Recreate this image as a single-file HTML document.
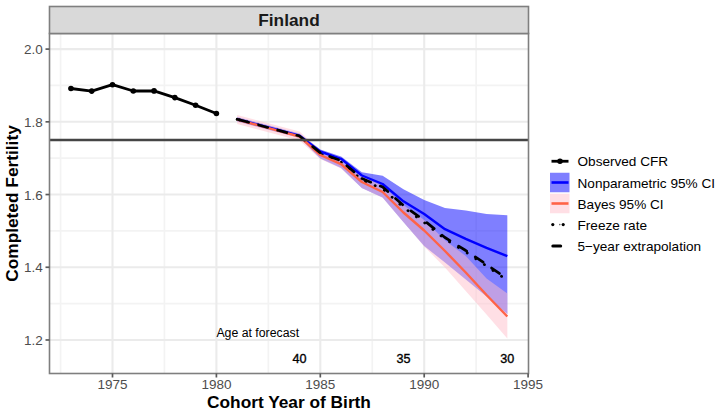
<!DOCTYPE html>
<html><head><meta charset="utf-8"><title>Finland</title>
<style>html,body{margin:0;padding:0;background:#fff;width:720px;height:415px;overflow:hidden}svg{display:block}</style>
</head><body>
<svg width="720" height="415" viewBox="0 0 720 415">
<rect x="0" y="0" width="720" height="415" fill="#fff"/>
<g stroke="#F3F3F3" stroke-width="1.7">
<line x1="60.55" y1="33.5" x2="60.55" y2="373.5"/>
<line x1="164.45" y1="33.5" x2="164.45" y2="373.5"/>
<line x1="268.35" y1="33.5" x2="268.35" y2="373.5"/>
<line x1="372.25" y1="33.5" x2="372.25" y2="373.5"/>
<line x1="476.15" y1="33.5" x2="476.15" y2="373.5"/>
<line x1="49.5" y1="303.62" x2="528.5" y2="303.62"/>
<line x1="49.5" y1="230.90" x2="528.5" y2="230.90"/>
<line x1="49.5" y1="158.18" x2="528.5" y2="158.18"/>
<line x1="49.5" y1="85.46" x2="528.5" y2="85.46"/>
</g><g stroke="#EBEBEB" stroke-width="2.1">
<line x1="112.50" y1="33.5" x2="112.50" y2="373.5"/>
<line x1="216.40" y1="33.5" x2="216.40" y2="373.5"/>
<line x1="320.30" y1="33.5" x2="320.30" y2="373.5"/>
<line x1="424.20" y1="33.5" x2="424.20" y2="373.5"/>
<line x1="49.5" y1="339.98" x2="528.5" y2="339.98"/>
<line x1="49.5" y1="267.26" x2="528.5" y2="267.26"/>
<line x1="49.5" y1="194.54" x2="528.5" y2="194.54"/>
<line x1="49.5" y1="121.82" x2="528.5" y2="121.82"/>
<line x1="49.5" y1="49.10" x2="528.5" y2="49.10"/>
</g>
<polygon points="237.18,117.00 257.96,122.50 278.74,128.00 299.52,133.50 320.30,149.50 341.08,156.50 361.86,172.30 382.64,175.80 403.42,189.20 424.20,200.10 444.98,208.10 465.76,210.60 486.54,214.00 507.32,215.30 507.32,314.00 486.54,296.50 465.76,279.50 444.98,262.60 424.20,246.00 403.42,222.00 382.64,197.50 361.86,188.00 341.08,168.00 320.30,158.50 299.52,138.00 278.74,132.50 257.96,127.00 237.18,121.50" fill="#0000FF" fill-opacity="0.5"/>
<polygon points="237.18,115.00 257.96,120.50 278.74,126.00 299.52,131.50 320.30,150.00 341.08,157.50 361.86,176.00 382.64,186.00 403.42,205.00 424.20,220.00 444.98,240.20 465.76,256.00 486.54,278.60 507.32,293.50 507.32,338.50 486.54,314.50 465.76,291.00 444.98,267.50 424.20,246.50 403.42,222.00 382.64,197.70 361.86,188.00 341.08,168.50 320.30,159.00 299.52,140.50 278.74,135.00 257.96,129.50 237.18,124.00" fill="#FFC0CB" fill-opacity="0.5"/>
<polyline points="237.18,119.30 257.96,124.80 278.74,130.40 299.52,136.20 320.30,153.50 341.08,162.00 361.86,180.00 382.64,188.80 403.42,207.30 424.20,222.50 444.98,239.00 465.76,252.00 486.54,266.00 507.32,280.30" fill="none" stroke="#000" stroke-width="2.8" stroke-dasharray="0.1 10.3" stroke-linecap="round" stroke-linejoin="round"/>
<polyline points="237.18,119.20 257.96,124.70 278.74,130.20 299.52,135.60 320.30,151.50 341.08,158.80 361.86,175.50 382.64,184.00 403.42,201.30 424.20,214.00 444.98,229.20 465.76,238.80 486.54,247.80 507.32,256.20" fill="none" stroke="#0000FF" stroke-width="2.4" stroke-linejoin="round"/>
<polyline points="237.18,119.50 257.96,125.20 278.74,130.80 299.52,136.50 320.30,155.00 341.08,164.20 361.86,182.00 382.64,192.00 403.42,212.50 424.20,230.50 444.98,251.00 465.76,272.50 486.54,295.00 507.32,316.50" fill="none" stroke="#FF6347" stroke-width="2.4" stroke-linejoin="round"/>
<polyline points="237.18,119.30 257.96,124.80 278.74,130.40 299.52,136.00 320.30,152.80 341.08,160.80 361.86,178.50 382.64,187.00 403.42,205.40 424.20,220.50 444.98,237.50 465.76,250.50 486.54,264.50 507.32,279.00" fill="none" stroke="#000" stroke-width="2.7" stroke-dasharray="9.5 10.3" stroke-dashoffset="-2.3" stroke-linecap="round" stroke-linejoin="round"/>
<line x1="237.18" y1="119.30" x2="239.40" y2="119.89" stroke="#000" stroke-width="2.7" stroke-linecap="round"/>
<polyline points="70.94,88.50 91.72,91.10 112.50,84.70 133.28,91.00 154.06,90.90 174.84,97.60 195.62,105.20 216.40,113.50" fill="none" stroke="#000" stroke-width="2.8" stroke-linejoin="round"/>
<circle cx="70.94" cy="88.50" r="2.8" fill="#000"/>
<circle cx="91.72" cy="91.10" r="2.8" fill="#000"/>
<circle cx="112.50" cy="84.70" r="2.8" fill="#000"/>
<circle cx="133.28" cy="91.00" r="2.8" fill="#000"/>
<circle cx="154.06" cy="90.90" r="2.8" fill="#000"/>
<circle cx="174.84" cy="97.60" r="2.8" fill="#000"/>
<circle cx="195.62" cy="105.20" r="2.8" fill="#000"/>
<circle cx="216.40" cy="113.50" r="2.8" fill="#000"/>
<line x1="49.5" y1="140" x2="528.5" y2="140" stroke="#454545" stroke-width="2.3"/>
<g font-family="Liberation Sans, sans-serif" fill="#000">
<text x="216.40" y="337" font-size="12.3">Age at forecast</text>
<text x="299.52" y="363" font-size="12.6" text-anchor="middle" stroke="#000" stroke-width="0.35">40</text>
<text x="403.42" y="363" font-size="12.6" text-anchor="middle" stroke="#000" stroke-width="0.35">35</text>
<text x="507.32" y="363" font-size="12.6" text-anchor="middle" stroke="#000" stroke-width="0.35">30</text>
</g>
<rect x="49.5" y="33.5" width="479.0" height="340.0" fill="none" stroke="#7F7F7F" stroke-width="1.6"/>
<rect x="49.5" y="6.5" width="479.0" height="27.0" fill="#D9D9D9" stroke="#7F7F7F" stroke-width="1.6"/>
<text x="289.00" y="26.4" font-family="Liberation Sans, sans-serif" font-weight="bold" font-size="17.3" text-anchor="middle" fill="#1A1A1A">Finland</text>
<g stroke="#5A5A5A" stroke-width="1.7">
<line x1="45.5" y1="339.98" x2="49.5" y2="339.98"/>
<line x1="45.5" y1="267.26" x2="49.5" y2="267.26"/>
<line x1="45.5" y1="194.54" x2="49.5" y2="194.54"/>
<line x1="45.5" y1="121.82" x2="49.5" y2="121.82"/>
<line x1="45.5" y1="49.10" x2="49.5" y2="49.10"/>
<line x1="112.50" y1="373.5" x2="112.50" y2="377.5"/>
<line x1="216.40" y1="373.5" x2="216.40" y2="377.5"/>
<line x1="320.30" y1="373.5" x2="320.30" y2="377.5"/>
<line x1="424.20" y1="373.5" x2="424.20" y2="377.5"/>
<line x1="528.10" y1="373.5" x2="528.10" y2="377.5"/>
</g>
<g font-family="Liberation Sans, sans-serif" fill="#4D4D4D" font-size="13.5">
<text x="42.8" y="344.98" text-anchor="end">1.2</text>
<text x="42.8" y="272.26" text-anchor="end">1.4</text>
<text x="42.8" y="199.54" text-anchor="end">1.6</text>
<text x="42.8" y="126.82" text-anchor="end">1.8</text>
<text x="42.8" y="54.10" text-anchor="end">2.0</text>
<text x="112.50" y="389.2" text-anchor="middle">1975</text>
<text x="216.40" y="389.2" text-anchor="middle">1980</text>
<text x="320.30" y="389.2" text-anchor="middle">1985</text>
<text x="424.20" y="389.2" text-anchor="middle">1990</text>
<text x="528.10" y="389.2" text-anchor="middle">1995</text>
</g>
<text x="289.00" y="407.5" font-family="Liberation Sans, sans-serif" font-weight="bold" font-size="17.3" text-anchor="middle" fill="#000">Cohort Year of Birth</text>
<text transform="translate(18,203.5) rotate(-90)" x="0" y="0" font-family="Liberation Sans, sans-serif" font-weight="bold" font-size="17.3" text-anchor="middle" fill="#000">Completed Fertility</text>
<line x1="551.5" y1="161.25" x2="568.5" y2="161.25" stroke="#000" stroke-width="2.8"/><circle cx="560" cy="161.25" r="2.8" fill="#000"/><rect x="550.0" y="172.75" width="19.5" height="19.5" fill="#0000FF" fill-opacity="0.5"/><line x1="551.5" y1="182.5" x2="568.5" y2="182.5" stroke="#0000FF" stroke-width="2.6"/><rect x="550.0" y="193.75" width="19.5" height="19.5" fill="#FFC0CB" fill-opacity="0.5"/><line x1="551.5" y1="203.5" x2="568.5" y2="203.5" stroke="#FF6347" stroke-width="2.6"/><circle cx="552.8" cy="224.6" r="1.6" fill="#000"/><circle cx="563.2" cy="224.6" r="1.6" fill="#000"/><circle cx="559.8" cy="224.6" r="0.8" fill="#666"/><line x1="552.8" y1="246.05" x2="560.7" y2="246.05" stroke="#000" stroke-width="3.0" stroke-linecap="round"/>
<g font-family="Liberation Sans, sans-serif" fill="#000" font-size="13.6">
<text x="577.5" y="166.25">Observed CFR</text>
<text x="577.5" y="187.50">Nonparametric 95% CI</text>
<text x="577.5" y="208.50">Bayes 95% CI</text>
<text x="577.5" y="230.00">Freeze rate</text>
<text x="577.5" y="251.25">5−year extrapolation</text>
</g>
</svg>
</body></html>
